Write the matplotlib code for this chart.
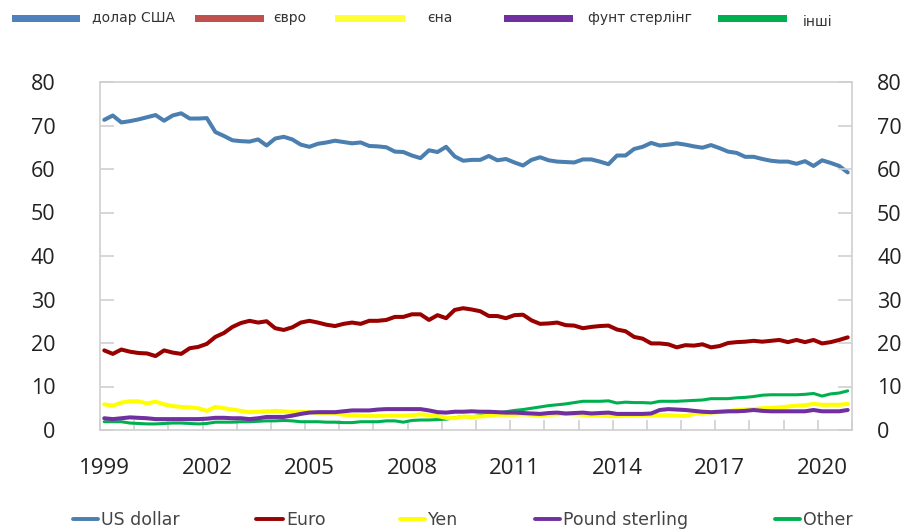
import numpy as np
import matplotlib
matplotlib.use("Agg")
import matplotlib.pyplot as plt
import matplotlib.font_manager as fm
from matplotlib.lines import Line2D
from matplotlib.patches import Rectangle

# ---------------- data (quarterly shares, %, 1999Q1 .. 2020Q4) ----------------
start_year = 1999
n_quarters = 88

usd = [71.3, 72.3, 70.7, 71.0, 71.4, 71.9, 72.4, 71.1, 72.3, 72.8, 71.6, 71.6,
       71.7, 68.5, 67.6, 66.6, 66.4, 66.3, 66.8, 65.4, 67.0, 67.4, 66.8, 65.6,
       65.1, 65.8, 66.1, 66.5, 66.2, 65.9, 66.1, 65.3, 65.2, 65.0, 64.0, 63.9,
       63.1, 62.5, 64.3, 63.9, 65.1, 62.9, 61.9, 62.1, 62.1, 63.0, 62.0, 62.3,
       61.5, 60.8, 62.1, 62.7, 62.0, 61.7, 61.6, 61.5, 62.2, 62.2, 61.7, 61.1,
       63.1, 63.1, 64.6, 65.1, 66.0, 65.4, 65.6, 65.9, 65.6, 65.2, 64.9, 65.5,
       64.8, 64.0, 63.7, 62.8, 62.8, 62.3, 61.9, 61.7, 61.7, 61.2, 61.8, 60.7,
       62.0, 61.4, 60.7, 59.2]

euro = [18.3, 17.5, 18.5, 18.0, 17.7, 17.6, 17.0, 18.3, 17.8, 17.5, 18.8, 19.1,
        19.8, 21.4, 22.3, 23.7, 24.6, 25.1, 24.7, 25.0, 23.4, 23.0, 23.6, 24.7,
        25.1, 24.7, 24.2, 23.9, 24.4, 24.7, 24.4, 25.1, 25.1, 25.3, 26.0, 26.0,
        26.6, 26.6, 25.3, 26.4, 25.7, 27.6, 28.0, 27.7, 27.3, 26.2, 26.2, 25.7,
        26.4, 26.5, 25.2, 24.4, 24.5, 24.7, 24.1, 24.0, 23.4, 23.7, 23.9, 24.0,
        23.1, 22.7, 21.4, 21.0, 19.9, 19.9, 19.7, 19.0, 19.5, 19.4, 19.7, 19.0,
        19.3, 20.0, 20.2, 20.3, 20.5, 20.3, 20.5, 20.7, 20.2, 20.7, 20.2, 20.7,
        19.9, 20.2, 20.7, 21.3]

yen = [5.9, 5.6, 6.3, 6.6, 6.6, 6.1, 6.5, 5.9, 5.5, 5.3, 5.2, 5.0,
       4.4, 5.3, 5.0, 4.7, 4.4, 4.1, 4.2, 4.3, 4.4, 4.3, 4.1, 4.2,
       4.1, 3.9, 3.9, 3.8, 3.5, 3.4, 3.3, 3.2, 3.2, 3.3, 3.3, 3.3,
       3.4, 3.6, 3.4, 3.2, 2.8, 2.7, 3.1, 3.0, 3.1, 3.3, 3.5, 3.5,
       3.5, 3.6, 3.5, 3.4, 3.5, 3.6, 3.7, 3.6, 3.5, 3.4, 3.3, 3.2,
       3.2, 3.3, 3.3, 3.4, 3.4, 3.4, 3.4, 3.3, 3.2, 3.7, 3.9, 4.0,
       4.1, 4.3, 4.6, 4.7, 4.8, 5.0, 5.1, 5.2, 5.4, 5.6, 5.7, 6.0,
       5.8, 5.8, 5.8, 6.0]

pound = [2.7, 2.5, 2.7, 2.9, 2.8, 2.7, 2.5, 2.5, 2.5, 2.5, 2.5, 2.5,
         2.6, 2.8, 2.8, 2.7, 2.7, 2.5, 2.7, 3.0, 3.0, 3.0, 3.3, 3.7,
         4.0, 4.1, 4.1, 4.1, 4.3, 4.5, 4.5, 4.5, 4.7, 4.8, 4.8, 4.8,
         4.8, 4.8, 4.5, 4.1, 4.0, 4.2, 4.2, 4.3, 4.2, 4.2, 4.1, 4.0,
         4.0, 3.9, 3.8, 3.7, 3.9, 4.0, 3.8, 3.9, 4.0, 3.8, 3.9, 4.0,
         3.7, 3.7, 3.7, 3.7, 3.8, 4.6, 4.8, 4.7, 4.6, 4.4, 4.2, 4.1,
         4.2, 4.3, 4.3, 4.4, 4.6, 4.4, 4.3, 4.3, 4.3, 4.3, 4.3, 4.6,
         4.3, 4.3, 4.3, 4.6]

other = [1.9, 1.9, 1.9, 1.6, 1.5, 1.4, 1.4, 1.5, 1.6, 1.6, 1.5, 1.4,
         1.5, 1.8, 1.8, 1.8, 1.9, 1.9, 2.0, 2.1, 2.1, 2.2, 2.1, 1.9,
         1.9, 1.9, 1.8, 1.8, 1.7, 1.7, 1.9, 1.9, 1.9, 2.1, 2.1, 1.8,
         2.2, 2.3, 2.3, 2.4, 2.5, 2.8, 3.1, 3.0, 3.3, 3.6, 3.9, 4.2,
         4.5, 4.7, 5.0, 5.3, 5.6, 5.8, 6.0, 6.3, 6.6, 6.6, 6.6, 6.7,
         6.2, 6.4, 6.3, 6.3, 6.2, 6.6, 6.6, 6.6, 6.7, 6.8, 6.9, 7.2,
         7.2, 7.2, 7.4, 7.5, 7.7, 8.0, 8.1, 8.1, 8.1, 8.1, 8.2, 8.4,
         7.8, 8.3, 8.5, 9.0]

series_en = ["US dollar", "Euro", "Yen", "Pound sterling", "Other"]
series_uk = ["долар США", "євро", "єна", "фунт стерлінг", "інші"]
line_colors = ["#4a7fb0", "#990000", "#ffff00", "#7030a0", "#00b050"]
top_colors = ["#4f81bd", "#c0504d", "#ffff33", "#7030a0", "#00b050"]
label_years = [1999, 2002, 2005, 2008, 2011, 2014, 2017, 2020]
y_ticks = [0, 10, 20, 30, 40, 50, 60, 70, 80]

# ---------------- fonts ----------------
names = {f.name for f in fm.fontManager.ttflist}
narrow = "Liberation Sans Narrow" if "Liberation Sans Narrow" in names else None
num_font = "Open Sans" if "Open Sans" in names else "DejaVu Sans"

W, H = 906, 531
fig = plt.figure(figsize=(W / 100, H / 100), dpi=100)
fig.patch.set_facecolor("white")

def fx(px):
    return px / W

def fy(py):
    return 1 - py / H

ax = fig.add_axes([fx(100), fy(430), fx(852) - fx(100), fy(82) - fy(430)])
t = start_year + (np.arange(n_quarters) + 0.5) / 4.0

data = [usd, euro, yen, pound, other]
widths = [2.9, 2.9, 2.9, 2.9, 2.2]
order = [4, 2, 3, 1, 0]
for k in order:
    ax.plot(t, data[k], color=line_colors[k], lw=widths[k],
            solid_joinstyle="round", solid_capstyle="round", zorder=3 + (k == 0))

ax.set_xlim(1999, 2021)
ax.set_ylim(0, 80)

spine_c = "#d0d0d0"
for s in ax.spines.values():
    s.set_color(spine_c)
    s.set_linewidth(1.2)

# x ticks: yearly boundary ticks (inward), labels slightly right of boundary
ax.set_xticks(np.arange(1999, 2022), labels=[""] * 23)
ax.tick_params(axis="x", which="major", direction="in", length=7, width=1.2,
               color=spine_c)
ax.set_xticks([y + 0.13 for y in label_years], labels=[str(y) for y in label_years],
              minor=True)
ax.tick_params(axis="x", which="minor", length=0, pad=20, labelsize=16,
               labelcolor="#222222")
for lb in ax.get_xticklabels(minor=True):
    lb.set_fontfamily(num_font)

ax.set_yticks(y_ticks, labels=[str(v) for v in y_ticks])
ax.tick_params(axis="y", direction="in", length=10, width=1.2, color=spine_c,
               pad=32, labelsize=15.5, labelcolor="#222222")
for lb in ax.get_yticklabels():
    lb.set_fontfamily(num_font)

ax2 = ax.twinx()
ax2.set_ylim(0, 80)
ax2.set_yticks(y_ticks, labels=[str(v) for v in y_ticks])
ax2.tick_params(axis="y", direction="in", length=10, width=1.2, color=spine_c,
                pad=18, labelsize=15.5, labelcolor="#222222")
for lb in ax2.get_yticklabels():
    lb.set_fontfamily(num_font)
for s in ax2.spines.values():
    s.set_visible(False)

# ---------------- top legend (Ukrainian) ----------------
top_bars = [(12, 80), (195, 264), (335, 405), (504, 573), (718, 787)]
top_text_x = [92, 273, 427, 588, 803]
top_text_dy = [0, 0, 0, 0, 4]
top_font = narrow if narrow else "DejaVu Sans"
top_size = 12 if narrow else 10
for k in range(5):
    x0, x1 = top_bars[k]
    fig.add_artist(Rectangle((fx(x0), fy(22)), fx(x1) - fx(x0), fy(15) - fy(22),
                             transform=fig.transFigure, facecolor=top_colors[k],
                             edgecolor="none"))
    fig.text(fx(top_text_x[k]), fy(18 + top_text_dy[k]), series_uk[k],
             ha="left", va="center", fontsize=top_size, family=top_font,
             color="#333333")

# ---------------- bottom legend (English) ----------------
bot_lines = [(73, 98), (256, 283), (400, 425), (535, 560), (775, 800)]
bot_text_x = [101, 286, 428, 563, 803]
bot_font = narrow if narrow else "DejaVu Sans"
bot_size = 16 if narrow else 12.5
for k in range(5):
    x0, x1 = bot_lines[k]
    fig.add_artist(Line2D([fx(x0), fx(x1)], [fy(519), fy(519)],
                          transform=fig.transFigure, color=line_colors[k],
                          lw=2.8, solid_capstyle="round"))
    fig.text(fx(bot_text_x[k]), fy(520), series_en[k], ha="left", va="center",
             fontsize=bot_size, family=bot_font, color="#444444")

fig.savefig("out.png", dpi=100, facecolor="white")
